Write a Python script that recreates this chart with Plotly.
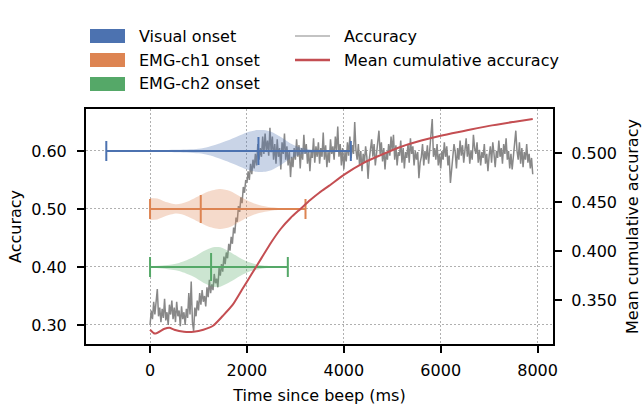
import plotly.graph_objects as go

# ---------------- data ----------------
acc_time_ms = list(range(0, 7901, 25))
accuracy = [
    0.300, 0.325, 0.310, 0.340, 0.318, 0.335, 0.362, 0.315, 0.330, 0.305, 0.328, 0.312, 0.345, 0.308, 0.322, 0.300, 0.335, 0.318, 0.342, 0.310,
    0.330, 0.305, 0.340, 0.315, 0.325, 0.298, 0.332, 0.310, 0.322, 0.300, 0.328, 0.312, 0.355, 0.318, 0.375, 0.305, 0.290, 0.330, 0.315, 0.342,
    0.325, 0.355, 0.335, 0.360, 0.340, 0.350, 0.332, 0.365, 0.348, 0.378, 0.355, 0.370, 0.360, 0.388, 0.372, 0.380, 0.365, 0.398, 0.385, 0.405,
    0.392, 0.418, 0.405, 0.425, 0.415, 0.440, 0.428, 0.452, 0.440, 0.468, 0.458, 0.485, 0.478, 0.505, 0.495, 0.520, 0.510, 0.538, 0.528, 0.550,
    0.545, 0.565, 0.550, 0.578, 0.560, 0.585, 0.570, 0.595, 0.575, 0.612, 0.585, 0.605, 0.590, 0.625, 0.595, 0.630, 0.600, 0.618, 0.592, 0.640,
    0.598, 0.625, 0.585, 0.612, 0.578, 0.620, 0.590, 0.605, 0.568, 0.615, 0.595, 0.630, 0.585, 0.608, 0.575, 0.600, 0.555, 0.590, 0.572, 0.605,
    0.585, 0.620, 0.590, 0.610, 0.570, 0.605, 0.585, 0.628, 0.595, 0.612, 0.578, 0.600, 0.565, 0.598, 0.588, 0.622, 0.580, 0.608, 0.590, 0.615,
    0.578, 0.605, 0.590, 0.632, 0.585, 0.610, 0.572, 0.598, 0.580, 0.620, 0.595, 0.608, 0.585, 0.625, 0.600, 0.642, 0.590, 0.612, 0.575, 0.605,
    0.568, 0.598, 0.582, 0.615, 0.592, 0.625, 0.588, 0.610, 0.595, 0.650, 0.602, 0.585, 0.612, 0.575, 0.600, 0.565, 0.595, 0.580, 0.608, 0.590,
    0.552, 0.585, 0.600, 0.620, 0.590, 0.612, 0.575, 0.598, 0.610, 0.635, 0.595, 0.615, 0.582, 0.605, 0.568, 0.598, 0.585, 0.612, 0.592, 0.625,
    0.600, 0.628, 0.585, 0.610, 0.575, 0.598, 0.592, 0.618, 0.580, 0.605, 0.570, 0.598, 0.588, 0.612, 0.580, 0.622, 0.595, 0.608, 0.575, 0.600,
    0.585, 0.598, 0.553, 0.580, 0.590, 0.612, 0.575, 0.600, 0.585, 0.610, 0.578, 0.602, 0.620, 0.655, 0.590, 0.605, 0.585, 0.612, 0.575, 0.595,
    0.570, 0.600, 0.585, 0.615, 0.590, 0.608, 0.575, 0.592, 0.545, 0.575, 0.590, 0.612, 0.598, 0.570, 0.605, 0.585, 0.618, 0.592, 0.610, 0.580,
    0.605, 0.622, 0.590, 0.612, 0.578, 0.600, 0.585, 0.628, 0.605, 0.595, 0.615, 0.580, 0.602, 0.575, 0.598, 0.588, 0.612, 0.578, 0.595, 0.565,
    0.592, 0.608, 0.580, 0.615, 0.595, 0.572, 0.600, 0.588, 0.618, 0.590, 0.605, 0.578, 0.612, 0.595, 0.622, 0.585, 0.600, 0.570, 0.595, 0.568,
    0.590, 0.610, 0.635, 0.600, 0.585, 0.615, 0.578, 0.605, 0.572, 0.598, 0.585, 0.612, 0.580, 0.595, 0.570, 0.588, 0.560,
]

cum_time_ms = [0, 100, 300, 400, 500, 700, 900, 1100, 1300, 1500, 1700, 1900,
               2100, 2300, 2500, 2700, 2900, 3100, 3300, 3500, 3700, 4000,
               4400, 4800, 5200, 5600, 6000, 6500, 7000, 7500, 7900]
mean_cum_accuracy = [0.320, 0.316, 0.321, 0.322, 0.320, 0.318, 0.318, 0.320,
                     0.324, 0.334, 0.345, 0.361, 0.377, 0.393, 0.409, 0.423,
                     0.434, 0.443, 0.452, 0.460, 0.467, 0.478, 0.490, 0.499,
                     0.507, 0.513, 0.518, 0.523, 0.528, 0.532, 0.535]

onset_names = ["Visual onset", "EMG-ch1 onset", "EMG-ch2 onset"]
onset_rows = [0.60, 0.50, 0.40]
onset_min = [-903, 0, 0]
onset_median = [2238, 1047, 1260]
onset_max = [4145, 3209, 2844]

# violin density profiles (position in ms, half-width in accuracy units)
visual_pos = [-903, 0, 500, 1000, 1200, 1400, 1600, 1800, 2000, 2200, 2350,
              2500, 2700, 2900, 3100, 3400, 3800, 4145]
visual_width = [0.0003, 0.001, 0.002, 0.004, 0.007, 0.012, 0.018, 0.025,
                0.032, 0.036, 0.036, 0.033, 0.024, 0.013, 0.006, 0.002,
                0.001, 0.0003]
emg1_pos = [0, 150, 300, 550, 750, 1000, 1200, 1450, 1650, 1850, 2050, 2250,
            2500, 2800, 3209]
emg1_width = [0.019, 0.018, 0.013, 0.008, 0.012, 0.022, 0.030, 0.0345, 0.031,
              0.022, 0.013, 0.007, 0.003, 0.001, 0.0003]
emg2_pos = [0, 300, 600, 900, 1100, 1300, 1450, 1650, 1850, 2050, 2300, 2600,
            2844]
emg2_width = [0.001, 0.003, 0.007, 0.017, 0.027, 0.034, 0.034, 0.026, 0.016,
              0.008, 0.003, 0.001, 0.0003]

violin_pos = [visual_pos, emg1_pos, emg2_pos]
violin_width = [visual_width, emg1_width, emg2_width]

colors = ["#4C72B0", "#DD8452", "#55A868"]
fills = ["rgba(76,114,176,0.3)", "rgba(221,132,82,0.3)", "rgba(85,168,104,0.3)"]
acc_color = "#888888"
cum_color = "#C44E52"

x_ticks = [0, 2000, 4000, 6000, 8000]
y_ticks = [0.30, 0.40, 0.50, 0.60]
y2_ticks = [0.350, 0.400, 0.450, 0.500]

# ---------------- layout constants ----------------
W, H = 642, 405
ML, MR, MT, MB = 86, 89, 109, 61
PW, PH = W - ML - MR, H - MT - MB
FONT = "DejaVu Sans"
FS = 16


def pxx(px):
    return (px - ML) / PW


def pxy(py):
    return (H - MB - py) / PH


fig = go.Figure()

# accuracy line
fig.add_trace(go.Scatter(x=acc_time_ms, y=accuracy, mode="lines",
                         line=dict(color=acc_color, width=1.5),
                         showlegend=False, hoverinfo="skip"))

# violins
for i in range(3):
    pos = violin_pos[i]
    wid = violin_width[i]
    c = onset_rows[i]
    xs = pos + pos[::-1]
    ys = [c + w for w in wid] + [c - w for w in wid[::-1]]
    fig.add_trace(go.Scatter(x=xs, y=ys, fill="toself", mode="lines",
                             line=dict(width=0, color=fills[i], shape="spline", smoothing=0.8),
                             fillcolor=fills[i], showlegend=False,
                             hoverinfo="skip"))

# range bars with caps and medians
for i in range(3):
    fig.add_trace(go.Scatter(
        x=[onset_median[i]], y=[onset_rows[i]], mode="markers",
        marker=dict(symbol="line-ns", size=20, color=colors[i],
                    line=dict(color=colors[i], width=2)),
        error_x=dict(type="data", symmetric=False,
                     array=[onset_max[i] - onset_median[i]],
                     arrayminus=[onset_median[i] - onset_min[i]],
                     color=colors[i], thickness=2, width=10),
        showlegend=False, hoverinfo="skip"))

# mean cumulative accuracy (right axis)
fig.add_trace(go.Scatter(x=cum_time_ms, y=mean_cum_accuracy, mode="lines",
                         line=dict(color=cum_color, width=2, shape="spline", smoothing=0.6),
                         yaxis="y2", showlegend=False, hoverinfo="skip"))

# ---------------- manual legend ----------------
shapes = []
annotations = []
rows_py = [36, 60, 84]
for i in range(3):
    shapes.append(dict(type="rect", xref="paper", yref="paper",
                       x0=pxx(90), x1=pxx(125),
                       y0=pxy(rows_py[i] + 7), y1=pxy(rows_py[i] - 7),
                       fillcolor=colors[i], line=dict(width=0)))
    annotations.append(dict(text=onset_names[i], xref="paper", yref="paper",
                            x=pxx(137), y=pxy(rows_py[i]), xanchor="left",
                            yanchor="middle", showarrow=False,
                            font=dict(family=FONT, size=FS, color="black")))
line_items = [("Accuracy", acc_color, 1.2), ("Mean cumulative accuracy", cum_color, 2.5)]
for j, (name, col, lw) in enumerate(line_items):
    shapes.append(dict(type="line", xref="paper", yref="paper",
                       x0=pxx(295), x1=pxx(330),
                       y0=pxy(rows_py[j]), y1=pxy(rows_py[j]),
                       line=dict(color=col, width=lw)))
    annotations.append(dict(text=name, xref="paper", yref="paper",
                            x=pxx(342), y=pxy(rows_py[j]), xanchor="left",
                            yanchor="middle", showarrow=False,
                            font=dict(family=FONT, size=FS, color="black")))

axis_common = dict(ticks="outside", ticklen=7, tickwidth=1.5, tickcolor="black",
                   showline=True, linewidth=2, linecolor="black", zeroline=False,
                   automargin=False,
                   tickfont=dict(family=FONT, size=FS, color="black"))
grid = dict(showgrid=True, gridcolor="#b0b0b0", griddash="1.5px,2.5px", gridwidth=1.2)

fig.update_layout(
    width=W, height=H,
    margin=dict(l=ML, r=MR, t=MT, b=MB, pad=0),
    paper_bgcolor="white", plot_bgcolor="white",
    font=dict(family=FONT, size=FS, color="black"),
    showlegend=False,
    shapes=shapes, annotations=annotations,
    xaxis=dict(range=[-1322, 8318], tickvals=x_ticks, mirror=True,
               ticklabelstandoff=4,
               title=dict(text="Time since beep (ms)", font=dict(family=FONT, size=FS), standoff=12),
               **axis_common, **grid),
    yaxis=dict(range=[0.2672, 0.6724], tickvals=y_ticks, tickformat=".2f",
               mirror=True, ticklabelstandoff=7,
               title=dict(text="Accuracy", font=dict(family=FONT, size=FS), standoff=6),
               **axis_common, **grid),
    yaxis2=dict(range=[0.3054, 0.5452], tickvals=y2_ticks, tickformat=".3f",
                overlaying="y", side="right", showgrid=False,
                ticklabelstandoff=6,
                title=dict(text="Mean cumulative accuracy", font=dict(family=FONT, size=FS), standoff=14),
                **axis_common),
)

fig.write_html("out.html")
